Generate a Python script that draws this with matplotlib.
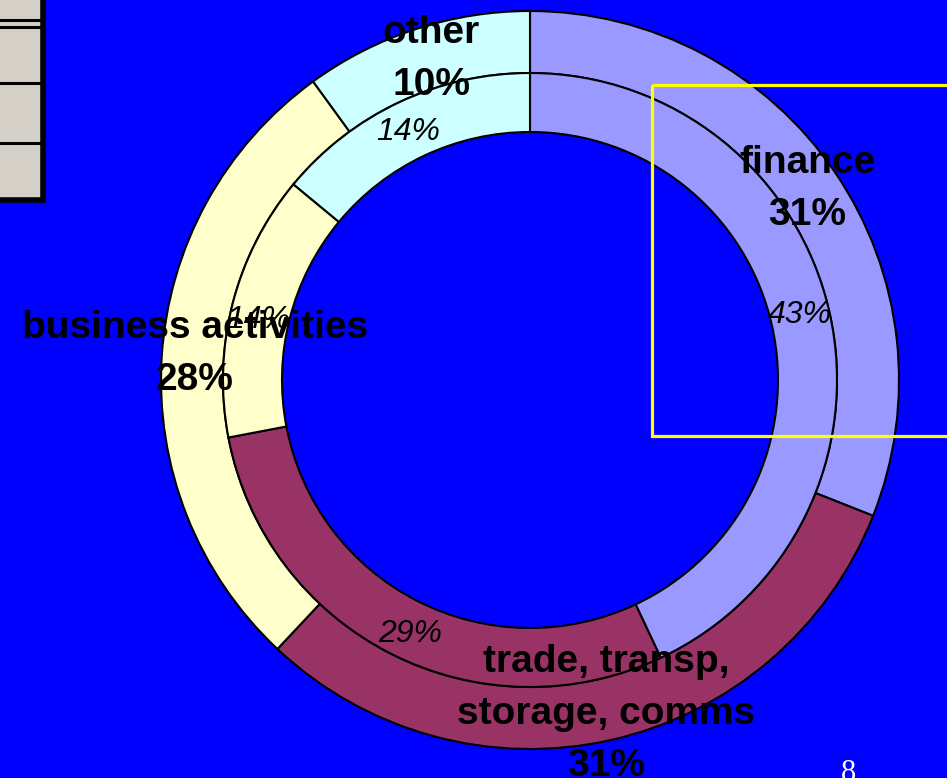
import matplotlib.pyplot as plt
from matplotlib.patches import Rectangle

# Anteile nach Sektor: äußerer Ring und innerer Ring
sectors = ["finance", "trade, transp,\nstorage, comms", "business activities", "other"]
outer_share = [31, 31, 28, 10]
inner_share = [43, 29, 14, 14]
colors = ["#9999FF", "#993366", "#FFFFCC", "#CCFFFF"]

# Beschriftungspositionen in Pixeln (erste Grundlinie)
outer_label_pos = [(807, 173), (606, 672), (195, 338), (431, 43)]
inner_label_pos = [(800, 323), (410, 642), (258, 328), (408, 140)]

W, H = 947, 778
blue = "#0000FF"

fig = plt.figure(figsize=(W / 100, H / 100), dpi=100)
fig.patch.set_facecolor(blue)
ax = fig.add_axes([0, 0, 1, 1])
ax.set_facecolor(blue)

# y-Achse nach unten -> Start bei -90 Grad und "counterclock" ergibt im Bild: oben, im Uhrzeigersinn
center = (530, 380)
wp = dict(edgecolor="black", linewidth=1.5)
ax.pie(outer_share, radius=369, center=center, startangle=-90, counterclock=True,
       colors=colors, wedgeprops=dict(width=62, **wp), frame=True)
ax.pie(inner_share, radius=307, center=center, startangle=-90, counterclock=True,
       colors=colors, wedgeprops=dict(width=59, **wp), frame=True)

ax.set_xlim(0, W)
ax.set_ylim(H, 0)
ax.set_aspect("equal")
ax.axis("off")

# graue Tabelle oben links (abgeschnitten)
ax.add_patch(Rectangle((-10, -10), 52.5, 210, facecolor="#D4D0C8", edgecolor="black",
                       linewidth=4, zorder=1))
for yy in [20, 27, 83, 143]:
    ax.plot([-10, 41], [yy, yy], color="black", linewidth=2.2, zorder=1)

# innere Beschriftungen (kursiv)
for share, (x, y) in zip(inner_share, inner_label_pos):
    ax.text(x, y, f"{share}%", ha="center", va="baseline", fontsize=23,
            fontstyle="italic", family="Liberation Sans", color="black", zorder=5)

# äußere Beschriftungen (fett)
for name, share, (x, y) in zip(sectors, outer_share, outer_label_pos):
    lines = name.split("\n") + [f"{share}%"]
    for i, line in enumerate(lines):
        ax.text(x, y + i * 52, line, ha="center", va="baseline", fontsize=28,
                fontweight="bold", family="Liberation Sans", color="black", zorder=6)

# gelber Rahmen
ax.add_patch(Rectangle((652, 85), 400, 351, fill=False, edgecolor="#FFFF00",
                       linewidth=2.3, zorder=4))

# Foliennummer
ax.text(848, 781, "8", ha="center", va="baseline", fontsize=22,
        family="Liberation Serif", color="white", zorder=6)

plt.savefig("out.png", dpi=100, facecolor=blue)
